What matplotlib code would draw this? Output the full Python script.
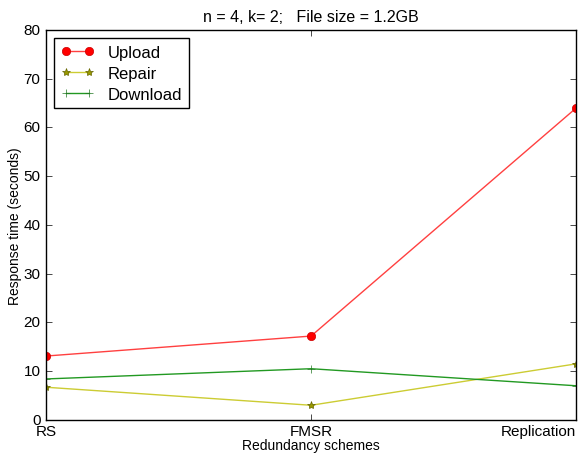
import matplotlib
matplotlib.use('Agg')
import matplotlib.pyplot as plt

plt.style.use('classic')
plt.rcParams['font.family'] = ['Liberation Sans', 'DejaVu Sans']

schemes = ['RS', 'FMSR', 'Replication']
upload = [13.1, 17.2, 64.0]
repair = [6.7, 3.0, 11.5]
download = [8.4, 10.5, 7.0]

fig = plt.figure(figsize=(5.82, 4.56), dpi=100, facecolor='white')
ax = fig.add_axes([0.079, 0.077, 0.911, 0.855])
x = range(len(schemes))
ax.plot(x, upload, 'r-', marker='o', markersize=6, color='#ff4040', mfc='red', mec='#cc0000', label='Upload')
ax.plot(x, repair, '-', marker='*', markersize=6, color='#cccc33', mfc='#999900', mec='#666600', label='Repair')
ax.plot(x, download, '-', marker='+', markersize=6, color='#229922', mec='#227722', label='Download')

ax.set_xlim(0, 2)
ax.set_ylim(0, 80)
ax.set_xticks(list(x))
ax.set_xticklabels(schemes)
ax.tick_params(labelsize=11)
ax.tick_params(axis='x', pad=3)
ax.get_xticklabels()[-1].set_horizontalalignment('right')
ax.get_xticklabels()[-1].set_x(2.0)
ax.set_xlabel('Redundancy schemes', fontsize=10, labelpad=0)
ax.set_ylabel('Response time (seconds)', fontsize=10, labelpad=1)
ax.set_title('n = 4, k= 2;   File size = 1.2GB', fontsize=11.5, y=1.005)
ax.legend(loc='upper left', fontsize=12, numpoints=2, labelspacing=0.35)

fig.savefig('out.png', dpi=100, facecolor='white')
